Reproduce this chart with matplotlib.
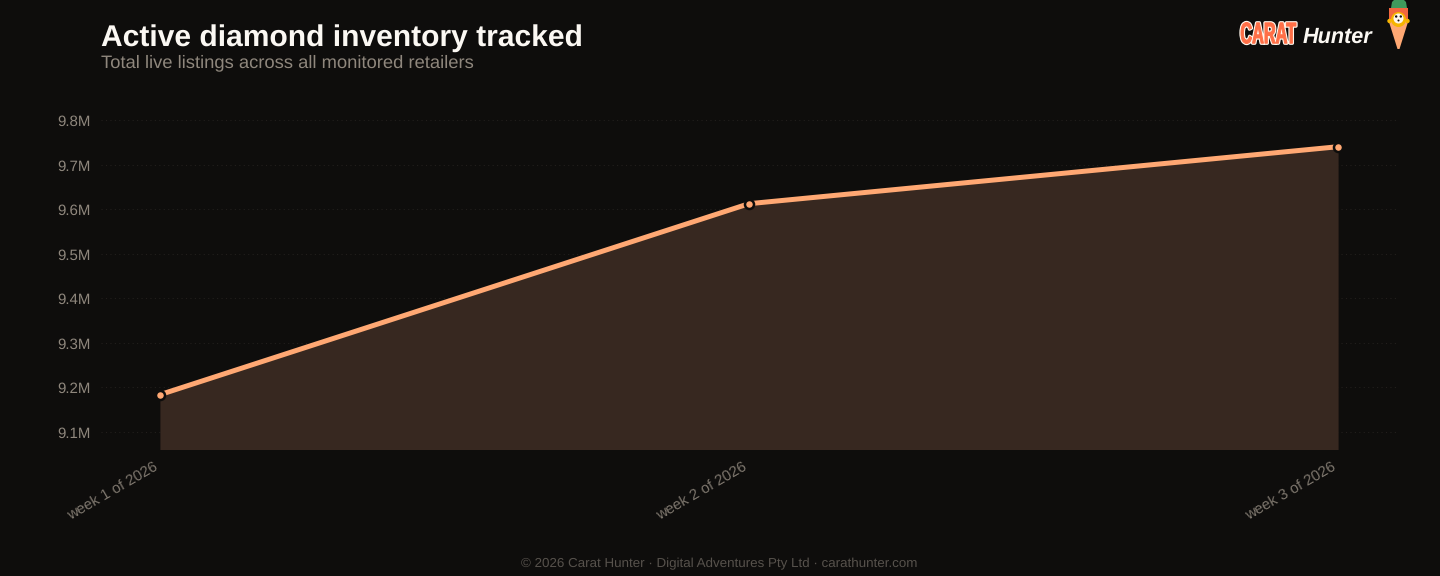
import matplotlib
matplotlib.use("Agg")
import matplotlib.pyplot as plt
from matplotlib.patches import Polygon, Circle, PathPatch
from matplotlib.textpath import TextPath
from matplotlib.font_manager import FontProperties
from matplotlib.transforms import Affine2D, ScaledTranslation

weeks = ["week 1 of 2026", "week 2 of 2026", "week 3 of 2026"]
listings_m = [9.1836, 9.6125, 9.7405]
y_ticks = [9.1, 9.2, 9.3, 9.4, 9.5, 9.6, 9.7, 9.8]
y_labels = ["9.1M", "9.2M", "9.3M", "9.4M", "9.5M", "9.6M", "9.7M", "9.8M"]

BG = "#0e0d0c"
ACCENT = "#ffa873"
MUTED = "#8f877d"
W, H = 1440, 576

plt.rcParams["font.family"] = ["Liberation Sans", "DejaVu Sans"]
plt.rcParams["text.hinting"] = "no_hinting"
plt.rcParams["text.hinting_factor"] = 8
fig = plt.figure(figsize=(14.4, 5.76), dpi=100, facecolor=BG)

# Plot area
left, right, top, bottom = 101, 1397, 106, 449.5
ax = fig.add_axes([left / W, 1 - bottom / H, (right - left) / W, (bottom - top) / H], facecolor=BG)
x = list(range(len(weeks)))
ymin = 9.8 - (bottom - 120.2) / 445.3
ymax = 9.8 + (120.2 - top) / 445.3
ax.set_xlim(-0.1, 2.1)
ax.set_ylim(ymin, ymax)
ax.fill_between(x, listings_m, ymin, color="#372820", lw=0, zorder=1)
ax.grid(axis="y", color="#221f1d", lw=0.8, ls=(0, (1, 3)), zorder=0)
ax.set_axisbelow(True)
ax.plot(x, listings_m, color=ACCENT, lw=3.6, zorder=3, solid_capstyle="round")
ax.plot(x, listings_m, ls="none", marker="o", ms=6.5, mfc=ACCENT, mec=BG, mew=1.8, zorder=4, clip_on=False)

for s in ax.spines.values():
    s.set_visible(False)
ax.set_yticks(y_ticks, y_labels)
ax.set_xticks(x, weeks)
ax.tick_params(axis="y", length=0, pad=7.8, labelsize=10.8, labelcolor=MUTED)
ax.tick_params(axis="x", length=0, pad=7.5, labelsize=10.8, labelcolor="#7d766d")
nudge = ScaledTranslation(-6 / 100, -1 / 100, fig.dpi_scale_trans)
for lab in ax.get_xticklabels():
    lab.set_rotation(30)
    lab.set_ha("right")
    lab.set_va("top")
    lab.set_rotation_mode("anchor")
    lab.set_transform(lab.get_transform() + nudge)
nudge_y = ScaledTranslation(0, -0.2 / 100, fig.dpi_scale_trans)
for lab in ax.get_yticklabels():
    lab.set_transform(lab.get_transform() + nudge_y)

def px_text(px, py, s, **kw):
    return fig.text(px / W, 1 - py / H, s, **kw)

px_text(101, 35, "Active diamond inventory tracked", fontsize=21.6, fontweight="bold",
        color="#fbf8f3", va="center_baseline")
px_text(101, 61, "Total live listings across all monitored retailers", fontsize=13.22,
        color=MUTED, va="center_baseline")
px_text(719.5, 563, "© 2026 Carat Hunter · Digital Adventures Pty Ltd · carathunter.com", fontsize=9.65,
        color="#57524c", ha="center", va="center_baseline")

# Brand mark, drawn in an overlay whose units are pixels
logo = fig.add_axes([0, 0, 1, 1], facecolor="none", zorder=5)
logo.set_xlim(0, W)
logo.set_ylim(H, 0)
logo.axis("off")

tp = TextPath((0, 0), "CARAT", size=28, prop=FontProperties(family="Liberation Sans", weight="bold"))
bb = tp.get_extents()
word = Affine2D().translate(-bb.x0, -bb.y0).scale(55 / bb.width, -21 / bb.height).translate(1241, 43.5)
logo.add_patch(PathPatch(tp.transformed(word), fc="#fff6ec", ec="#fff6ec", lw=2.4, joinstyle="round"))
logo.add_patch(PathPatch(tp.transformed(word), fc="#ff6f47", ec="#ff6f47", lw=0.7, joinstyle="round"))
px_text(1303, 35, "Hunter", fontsize=15.6, fontweight="bold", fontstyle="italic",
        color="#fbf8f3", va="center_baseline")

# Carrot mascot
logo.add_patch(Polygon([[1391, 8], [1392, 2], [1395, -1], [1403, -1], [1406, 2], [1407, 8]], fc="#3f9a5c", ec="none"))
logo.add_patch(Polygon([[1389, 8], [1408, 8], [1408, 22], [1399.5, 49], [1397.5, 49], [1389, 22]], fc="#ffa873", ec="none"))
logo.add_patch(Polygon([[1389, 8], [1408, 8], [1408, 19], [1389, 19]], fc="#f2673f", ec="none"))
logo.add_patch(Circle((1398.5, 19.5), 7.5, fc="#f7b500", ec="none"))
logo.add_patch(Circle((1389.5, 21), 2.2, fc="#f7b500", ec="none"))
logo.add_patch(Circle((1407.5, 21), 2.2, fc="#f7b500", ec="none"))
logo.add_patch(Circle((1398.5, 18.5), 5, fc="#fff6ec", ec="none"))
for ex in (1396.2, 1400.8):
    logo.add_patch(Circle((ex, 16.5), 1.2, fc="#15110e", ec="none"))
logo.add_patch(Circle((1398.5, 20.5), 1.0, fc="#15110e", ec="none"))

fig.savefig("out.png", dpi=100, facecolor=BG)
